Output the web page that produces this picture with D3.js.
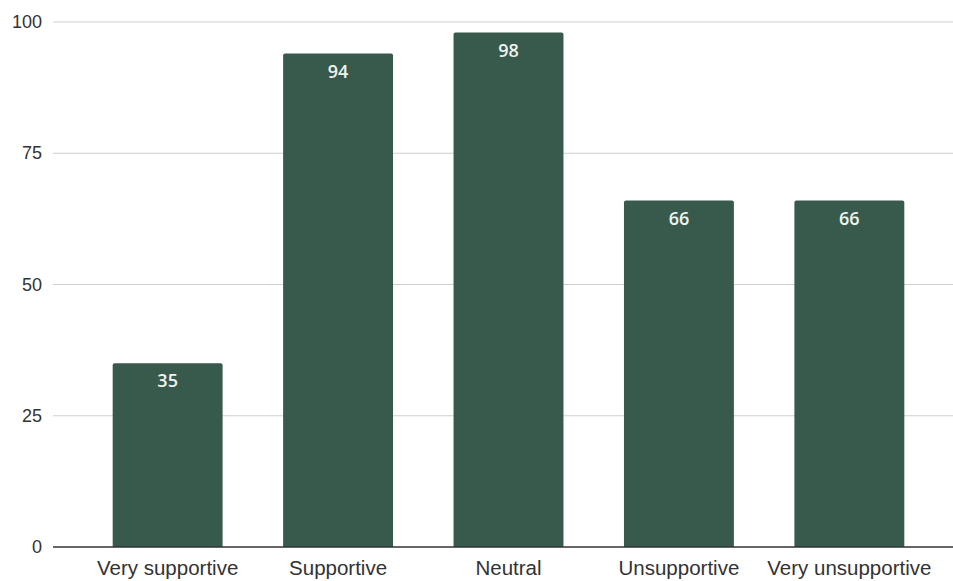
<!DOCTYPE html>
<html lang="en">
<head>
    <meta charset="UTF-8">
    <title>Support Levels</title>
    <script src="https://cdn.jsdelivr.net/npm/d3@7"></script>
    <style>
        body { margin: 0; background: #fff; }
        svg text { font-family: "Liberation Sans", Arial, sans-serif; }
    </style>
</head>
<body>
    <svg id="chart" width="953" height="581"></svg>
    <script>
        const categories = ["Very supportive", "Supportive", "Neutral", "Unsupportive", "Very unsupportive"];
        const counts = [35, 94, 98, 66, 66];
        const yTicks = [0, 25, 50, 75, 100];

        const svg = d3.select("#chart");
        const plotLeft = 53, plotRight = 953, plotTop = 22, plotBottom = 547;

        const x = d3.scaleBand()
            .domain(categories)
            .range([82, 935])
            .paddingInner(0.355)
            .paddingOuter(0.18);

        const y = d3.scaleLinear().domain([0, 100]).range([plotBottom, plotTop]);

        // gridlines
        svg.selectAll(".grid")
            .data(yTicks.filter(d => d > 0))
            .enter().append("line")
            .attr("x1", plotLeft).attr("x2", plotRight)
            .attr("y1", d => y(d)).attr("y2", d => y(d))
            .attr("stroke", "#cfcfcf")
            .attr("stroke-width", 1);

        svg.selectAll(".ytick")
            .data(yTicks)
            .enter().append("text")
            .attr("x", 42)
            .attr("y", d => y(d) + 6)
            .attr("text-anchor", "end")
            .attr("font-size", 18)
            .attr("fill", "#333")
            .text(d => d);

        // bars with slightly rounded tops
        const r = 2;
        svg.selectAll(".bar")
            .data(counts)
            .enter().append("path")
            .attr("fill", "#385a4d")
            .attr("d", (d, i) => {
                const x0 = x(categories[i]), w = x.bandwidth(), y0 = y(d);
                return `M${x0},${plotBottom}V${y0 + r}Q${x0},${y0} ${x0 + r},${y0}H${x0 + w - r}Q${x0 + w},${y0} ${x0 + w},${y0 + r}V${plotBottom}Z`;
            });

        svg.selectAll(".val")
            .data(counts)
            .enter().append("text")
            .attr("x", (d, i) => x(categories[i]) + x.bandwidth() / 2)
            .attr("y", d => y(d) + 24)
            .attr("text-anchor", "middle")
            .attr("font-size", 18)
            .attr("font-weight", 600)
            .style("font-family", "'Open Sans', sans-serif")
            .attr("fill", "#eef3ef")
            .text(d => d);

        // baseline
        svg.append("line")
            .attr("x1", plotLeft).attr("x2", plotRight)
            .attr("y1", plotBottom).attr("y2", plotBottom)
            .attr("stroke", "#333").attr("stroke-width", 1.5);

        svg.selectAll(".xlab")
            .data(categories)
            .enter().append("text")
            .attr("x", d => x(d) + x.bandwidth() / 2)
            .attr("y", 575)
            .attr("text-anchor", "middle")
            .attr("font-size", 20.5)
            .attr("fill", "#333")
            .text(d => d);
    </script>
</body>
</html>
